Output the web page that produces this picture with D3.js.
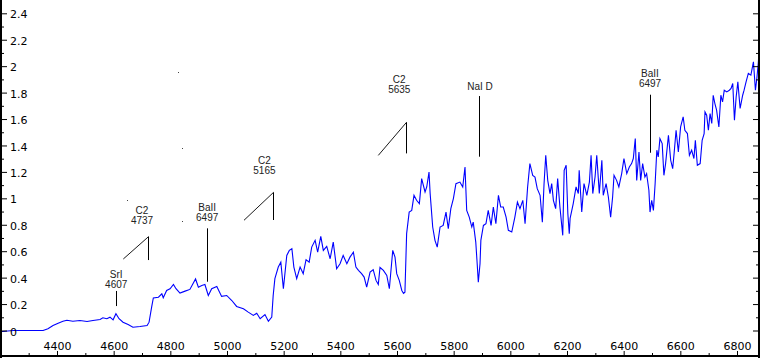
<!DOCTYPE html>
<html>
<head>
<meta charset="utf-8">
<script src="https://cdn.jsdelivr.net/npm/d3@7"></script>
<style>
html,body{margin:0;padding:0;background:#fff;}
svg{display:block;}
</style>
</head>
<body>
<svg id="chart" width="760" height="358"></svg>
<script>
// ---- data ----
const wavelength = [
4199,4245,4315,4351,4368,4386,4404,4421,4435,4456,
4481,4506,4527,4552,4562,4576,4587,4598,4608,4619,
4633,4651,4668,4693,4718,4725,4734,4740,4758,4770,
4775,4787,4799,4811,4820,4834,4852,4869,4889,4899,
4911,4922,4934,4946,4964,4981,4999,5017,5034,5058,
5075,5093,5105,5117,5134,5146,5158,5163,5169,5181,
5190,5199,5211,5220,5229,5236,5246,5258,5269,5279,
5290,5299,5311,5320,5331,5340,5352,5364,5375,5387,
5399,5410,5423,5434,5446,5455,5464,5475,5484,5493,
5505,5516,5526,5534,5540,5552,5564,5573,5585,5593,
5599,5608,5617,5623,5628,5634,5643,5652,5660,5669,
5679,5687,5699,5705,5713,5717,5726,5734,5742,5752,
5763,5773,5781,5790,5799,5808,5822,5832,5840,5846,
5855,5864,5869,5878,5883,5887,5893,5896,5905,5914,
5922,5932,5940,5949,5958,5966,5975,5985,5993,6005,
6016,6025,6034,6044,6052,6061,6069,6079,6087,6095,
6105,6113,6119,6125,6132,6140,6146,6152,6160,6167,
6175,6185,6190,6197,6203,6208,6211,6222,6232,6240,
6243,6252,6260,6270,6279,6285,6291,6299,6305,6314,
6323,6328,6338,6346,6354,6361,6366,6375,6383,6393,
6401,6411,6420,6428,6434,6441,6446,6454,6460,6467,
6475,6481,6489,6493,6499,6505,6511,6517,6522,6528,
6536,6542,6548,6558,6566,6573,6578,6585,6593,6601,
6610,6616,6625,6632,6640,6648,6653,6660,6670,6677,
6684,6687,6693,6699,6705,6711,6716,6722,6728,6736,
6743,6749,6755,6764,6773,6779,6785,6791,6797,6803,
6811,6820,6825,6832,6840,6849,6858,6865,6870,6875,
6879];
const flux = [
-0.01,0.00,0.00,0.00,0.013,0.038,0.055,0.070,0.078,0.070,
0.076,0.068,0.076,0.083,0.096,0.089,0.101,0.081,0.127,0.089,
0.063,0.045,0.025,0.030,0.038,0.063,0.177,0.246,0.252,0.278,
0.248,0.303,0.316,0.348,0.316,0.283,0.298,0.311,0.390,0.328,
0.341,0.348,0.265,0.316,0.333,0.258,0.265,0.227,0.182,0.164,
0.139,0.114,0.131,0.089,0.121,0.070,0.101,0.265,0.392,0.480,
0.517,0.316,0.568,0.606,0.619,0.480,0.392,0.480,0.430,0.536,
0.517,0.631,0.682,0.593,0.712,0.606,0.636,0.543,0.669,0.467,
0.505,0.568,0.505,0.555,0.593,0.480,0.455,0.430,0.404,0.328,
0.442,0.460,0.379,0.348,0.477,0.455,0.417,0.316,0.606,0.555,
0.430,0.379,0.303,0.280,0.290,0.733,0.896,0.909,1.023,0.985,
0.960,1.149,1.048,1.086,1.199,1.036,0.783,0.682,0.631,0.783,
0.795,0.896,0.770,0.922,0.998,1.111,1.123,1.086,1.237,0.909,
0.858,0.783,0.820,0.669,0.505,0.366,0.505,0.682,0.795,0.808,
0.909,0.795,0.934,0.808,1.023,0.934,0.934,0.858,0.758,0.745,
0.858,0.972,0.922,0.985,0.808,1.086,1.263,1.174,1.161,1.073,
1.023,0.820,1.111,1.326,1.136,1.036,1.111,0.985,0.922,1.149,
0.934,0.720,1.212,1.250,0.884,0.733,0.848,0.960,1.086,1.036,
1.212,0.896,1.111,1.023,1.123,1.326,1.036,1.161,1.326,1.036,
1.288,1.023,1.111,1.010,0.858,1.010,1.174,1.136,1.086,1.187,
1.301,1.187,1.237,1.263,1.301,1.452,1.136,1.351,1.136,1.263,
1.161,1.187,1.061,0.896,0.985,0.909,1.111,1.364,1.313,1.452,
1.414,1.174,1.263,1.477,1.288,1.225,1.339,1.515,1.351,1.540,
1.616,1.515,1.490,1.326,1.364,1.301,1.439,1.250,1.263,1.439,
1.490,1.654,1.629,1.515,1.642,1.566,1.780,1.717,1.667,1.540,
1.780,1.730,1.818,1.805,1.818,1.831,1.869,1.591,1.767,1.881,
1.680,1.780,1.818,1.881,1.945,1.932,2.033,1.818,1.907,2.020,
2.146];

const xTicks = [4400,4600,4800,5000,5200,5400,5600,5800,6000,6200,6400,6600,6800];
const xTickLabels = ["4400","4600","4800","5000","5200","5400","5600","5800","6000","6200","6400","6600","6800"];
const xMinorTicks = [4300,4500,4700,4900,5100,5300,5500,5700,5900,6100,6300,6500,6700];
const yTicks = [0,0.2,0.4,0.6,0.8,1,1.2,1.4,1.6,1.8,2,2.2,2.4];
const yTickLabels = ["0","0.2","0.4","0.6","0.8","1","1.2","1.4","1.6","1.8","2","2.2","2.4"];
const yMinorTicks = [0.1,0.3,0.5,0.7,0.9,1.1,1.3,1.5,1.7,1.9,2.1,2.3];

// line annotations
const annoLines1 = ["SrI","C2","BaII","C2","C2","NaI D","BaII"];
const annoLines2 = ["4607","4737","6497","5165","5635","","6497"];
const annoTextWl = [4609,4700,4930,5132,5608,5893,6493];
const annoTextFlux = [0.324,0.806,0.828,1.182,1.794,1.819,1.844];
const annoMarkWl = [4609,4722,4930,5161,5633,5890,6494];
const annoMarkFrom = [0.185,0.533,0.369,0.836,1.340,1.315,1.345];
const annoMarkTo = [0.299,0.710,0.773,1.045,1.575,1.774,1.784];
const annoDiagWl = [null,4634,null,5060,5534,null,null];
const annoDiagFlux = [null,0.541,null,0.834,1.325,null,null];

// small stray specks in the plot area
const speckWl = [4648,4840,4827,4841];
const speckFlux = [0.987,0.831,1.955,1.380];

// ---- drawing ----
const W = 760, H = 358;
const svg = d3.select("#chart");
const x = d3.scaleLinear().domain([4400,6800]).range([57,737]);
const y = d3.scaleLinear().domain([0,2.4]).range([330.5,13.3]);
const tickFont = "'DejaVu Sans', Verdana, sans-serif";
const annoFont = "'Liberation Sans', Arial, sans-serif";

svg.append("rect").attr("width",W).attr("height",H).attr("fill","#fff");

svg.append("defs").append("clipPath").attr("id","plotclip")
  .append("rect").attr("x",0).attr("y",0).attr("width",759).attr("height",356);

// spectrum
const pts = wavelength.map((w,i)=>[w,flux[i]]);
svg.append("path")
  .datum(pts)
  .attr("clip-path","url(#plotclip)")
  .attr("fill","none")
  .attr("stroke","#0000ff")
  .attr("stroke-width",1.1)
  .attr("stroke-linejoin","miter")
  .attr("d", d3.line().x(d=>x(d[0])).y(d=>y(d[1])));

// annotations
const ag = svg.append("g");
annoLines1.forEach((t,i)=>{
  const two = annoLines2[i] !== "";
  const bx = x(annoTextWl[i]), by = y(annoTextFlux[i]);
  const txt = ag.append("text")
    .attr("x",bx).attr("text-anchor","middle")
    .attr("font-family",annoFont).attr("font-size",10).attr("fill","#222");
  if (two) {
    txt.append("tspan").attr("x",bx).attr("y",by-10).text(t);
    txt.append("tspan").attr("x",bx).attr("y",by).text(annoLines2[i]);
  } else {
    txt.attr("y",by).text(t);
  }
  const mx = Math.round(x(annoMarkWl[i])) + 0.5;
  ag.append("line")
    .attr("x1",mx).attr("x2",mx)
    .attr("y1",y(annoMarkFrom[i])).attr("y2",y(annoMarkTo[i]))
    .attr("stroke","#000").attr("stroke-width",1);
  if (annoDiagWl[i] !== null) {
    ag.append("line")
      .attr("x1",x(annoDiagWl[i])).attr("y1",y(annoDiagFlux[i]))
      .attr("x2",mx).attr("y2",y(annoMarkTo[i]))
      .attr("stroke","#000").attr("stroke-width",0.9);
  }
});

// specks
svg.append("g").selectAll("rect").data(speckWl).join("rect")
  .attr("x",(d)=>Math.round(x(d)))
  .attr("y",(d,i)=>Math.round(y(speckFlux[i])))
  .attr("width",1).attr("height",1).attr("fill","#444");

// frame lines (left, bottom, right)
const frame = svg.append("g").attr("stroke","#000").attr("stroke-width",2);
frame.append("line").attr("x1",1).attr("x2",1).attr("y1",0).attr("y2",H);
frame.append("line").attr("x1",0).attr("x2",W).attr("y1",356).attr("y2",356);
frame.append("line").attr("x1",759).attr("x2",759).attr("y1",0).attr("y2",H);

function styleAxis(g){
  g.select(".domain").remove();
  g.selectAll(".tick line").attr("stroke","#000");
  g.selectAll(".tick text").attr("fill","#000")
    .attr("font-family",tickFont).attr("font-size",11);
}

// left axis (ticks inward, labels inside)
svg.append("g").attr("transform","translate(1,0)")
  .call(d3.axisRight(y).tickValues(yTicks).tickSize(6).tickPadding(3)
        .tickFormat((d,i)=>yTickLabels[i]))
  .call(styleAxis)
  .call(g=>g.selectAll(".tick text").attr("dy","0.42em"));
svg.append("g").attr("transform","translate(1,0)")
  .call(d3.axisRight(y).tickValues(yMinorTicks).tickSize(3).tickFormat(""))
  .call(styleAxis);

// right axis (ticks inward, no labels)
svg.append("g").attr("transform","translate(759,0)")
  .call(d3.axisLeft(y).tickValues(yTicks).tickSize(6).tickFormat(""))
  .call(styleAxis);
svg.append("g").attr("transform","translate(759,0)")
  .call(d3.axisLeft(y).tickValues(yMinorTicks).tickSize(3).tickFormat(""))
  .call(styleAxis);

// bottom axis (ticks inward, labels inside)
svg.append("g").attr("transform","translate(0,356)")
  .call(d3.axisTop(x).tickValues(xTicks).tickSize(5).tickPadding(1)
        .tickFormat((d,i)=>xTickLabels[i]))
  .call(styleAxis);
svg.append("g").attr("transform","translate(0,356)")
  .call(d3.axisTop(x).tickValues(xMinorTicks).tickSize(3).tickFormat(""))
  .call(styleAxis);
</script>
</body>
</html>
